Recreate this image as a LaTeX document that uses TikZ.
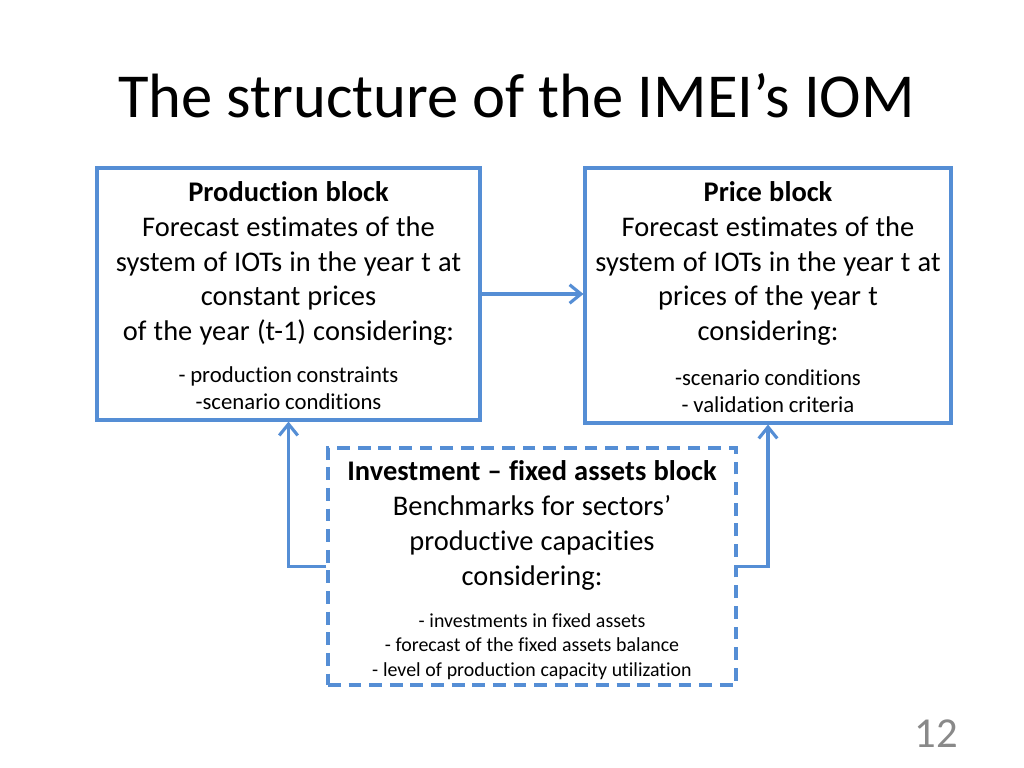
\documentclass[tikz,border=0pt]{standalone}
\usepackage{fontspec}
\setmainfont{Carlito}[Ligatures={NoCommon,NoContextual}]
\usetikzlibrary{arrows.meta}
\definecolor{blk}{HTML}{558ED5}
\definecolor{pgnum}{HTML}{898989}
\newcommand{\bigtxt}{\fontsize{20}{24.4}\selectfont\spaceskip=1.12\fontdimen2\font\relax}
\newcommand{\smalltxt}{\fontsize{16}{18.8}\selectfont}
\newcommand{\tinytxt}{\fontsize{14}{17}\selectfont}
\begin{document}
\begin{tikzpicture}[x=0.703125pt,y=-0.703125pt,
  blockbox/.style={draw=blk, line width=2.2pt, inner sep=0pt},
  blocktext/.style={anchor=north, inner sep=0pt, align=center},
  link/.style={draw=blk, line width=2.2pt, -{Straight Barb[length=8pt,width=13pt,line width=2.2pt]}}]
\useasboundingbox[fill=white] (0,0) rectangle (1024,768);
\node[anchor=base west, font=\fontsize{44}{53}\selectfont] (title) at (113,118) {The structure of the IMEI’s IOM};
\node[blockbox, minimum width=269.3pt, minimum height=177.2pt] (prod) at (288.5,294) {};
\node[blocktext, text width=269.3pt] (prodtxt) at ([yshift=-10.5pt]prod.north)
 {{\bigtxt\textbf{Production block}\\Forecast estimates of the\\system of IOTs in the year t at\\constant prices\\of the year (t-1) considering:\par}
 \vspace{11pt}
 {\smalltxt - production constraints\\-scenario conditions\par}};
\node[blockbox, minimum width=257.3pt, minimum height=179.3pt] (price) at (768,295.5) {};
\node[blocktext, text width=257.3pt] (pricetxt) at ([yshift=-10.5pt]price.north)
 {{\bigtxt\textbf{Price block}\\Forecast estimates of the\\system of IOTs in the year t at\\prices of the year t\\considering:\par}
 \vspace{13pt}
 {\smalltxt -scenario conditions\\- validation criteria\par}};
\node[blockbox, dash pattern=on 9pt off 5.5pt, minimum width=286.9pt, minimum height=166.6pt] (inv) at (532,566.5) {};
\node[blocktext, text width=286.9pt] (invtxt) at ([yshift=-10pt]inv.north)
 {{\bigtxt\textbf{Investment – fixed assets block}\\Benchmarks for sectors’\\productive capacities\\considering:\par}
 \vspace{13pt}
 {\tinytxt - investments in fixed assets\\- forecast of the fixed assets balance\\- level of production capacity utilization\par}};
\draw[link] (prod.east) -- (prod.east -| price.west);
\draw[link] (inv.west) -| (prod.south);
\draw[link] (inv.east) -| (price.south);
\node[anchor=base east, text=pgnum, font=\fontsize{30}{36}\selectfont] (pg) at (963,747) {12};
\end{tikzpicture}
\end{document}
